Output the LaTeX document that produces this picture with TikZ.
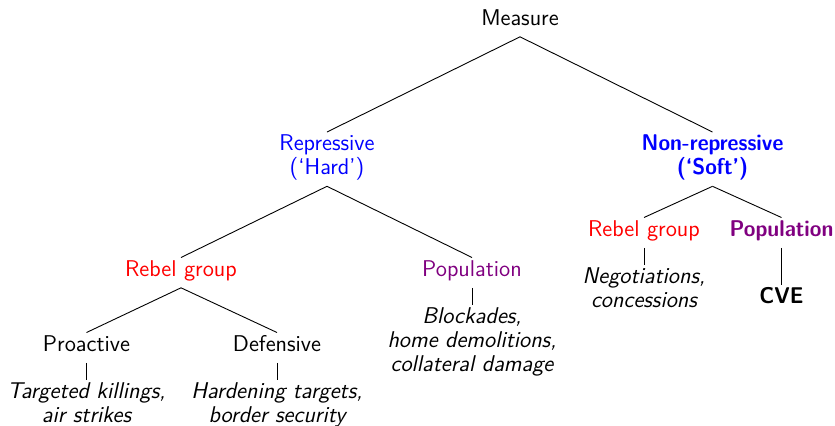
\documentclass[tikz,border=0pt]{standalone}
\usepackage{fontspec}
\renewcommand{\familydefault}{\sfdefault}
\newfontfamily\bsans{Latin Modern Sans}[FakeStretch=0.93]
\newcommand{\TLs}{\rule{0pt}{9.25pt}}
\newcommand{\BLs}{\rule[-5.5pt]{0pt}{5.5pt}}
\begin{document}
\begin{tikzpicture}[x=0.5pt,y=-0.5pt,
  every node/.style={font=\sffamily\fontsize{11.4}{12}\selectfont, align=center, inner xsep=2pt, inner ysep=0pt, anchor=north},
  one/.style={text height=9.25pt, text depth=5.5pt},
  ex/.style={font=\sffamily\itshape\fontsize{11.4}{12}\selectfont},
  bf/.style={font=\bsans\bfseries\fontsize{11.4}{12}\selectfont},
  edge/.style={draw=black, line width=0.45pt}]
\useasboundingbox (0,0) rectangle (835,425);
\node[one] (m) at (520,6.5) {Measure};
\node[text=blue] (hard) at (327,132) {\TLs Repressive\\(‘Hard’)\BLs};
\node[text=blue, bf] (soft) at (712.5,132) {\TLs Non-repressive\\(‘Soft’)\BLs};
\node[one, text=red] (rg1) at (181,257.5) {Rebel group};
\node[one, text=violet] (pop1) at (472,257.5) {Population};
\node[one] (pro) at (86.5,332.5) {Proactive};
\node[one] (def) at (277,332.5) {Defensive};
\node[ex] (tk) at (86.5,379.5) {\TLs Targeted killings,\\air strikes\BLs};
\node[ex] (ht) at (277,379.5) {\TLs Hardening targets,\\border security\BLs};
\node[ex] (bl) at (472,304.5) {\TLs Blockades,\\home demolitions,\\collateral damage\BLs};
\node[one, text=red] (rg2) at (644,217.5) {Rebel group};
\node[one, text=violet, bf] (pop2) at (781.5,217.5) {Population};
\node[ex] (neg) at (644,264.5) {\TLs Negotiations,\\concessions\BLs};
\node[one, bf] (cve) at (781.5,284.5) {CVE};
\draw[edge] (m.south) -- (hard.north);
\draw[edge] (m.south) -- (soft.north);
\draw[edge] (hard.south) -- (rg1.north);
\draw[edge] (hard.south) -- (pop1.north);
\draw[edge] (rg1.south) -- (pro.north);
\draw[edge] (rg1.south) -- (def.north);
\draw[edge] (pro.south) -- (tk.north);
\draw[edge] (def.south) -- (ht.north);
\draw[edge] (pop1.south) -- (bl.north);
\draw[edge] (soft.south) -- (rg2.north);
\draw[edge] (soft.south) -- (pop2.north);
\draw[edge] (rg2.south) -- (neg.north);
\draw[edge] (pop2.south) -- (cve.north);
\end{tikzpicture}
\end{document}
